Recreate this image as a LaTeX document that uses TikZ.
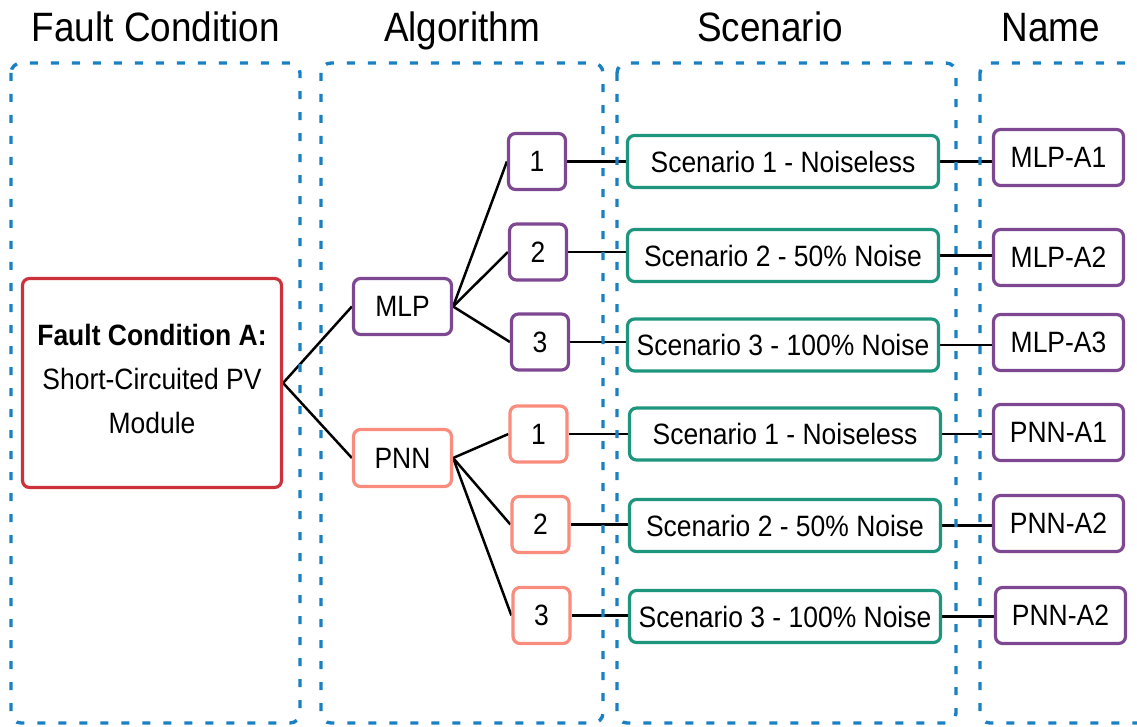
\documentclass[tikz,border=0pt]{standalone}
\usepackage{fontspec}
\setmainfont[FakeStretch=0.9]{Liberation Sans}
\definecolor{laneblue}{RGB}{26,128,196}
\definecolor{algpurple}{RGB}{125,72,145}
\definecolor{scteal}{RGB}{30,150,125}
\definecolor{pnnsalmon}{RGB}{250,140,125}
\definecolor{faultred}{RGB}{205,50,60}
\pgfdeclarelayer{back}
\pgfsetlayers{back,main}
\begin{document}
\begin{tikzpicture}[x=1pt,y=-1pt,
  lane/.style={draw=laneblue, line width=3.4pt, dash pattern=on 8pt off 13pt, rounded corners=10pt},
  heading/.style={font=\fontsize{41}{49}\selectfont, inner sep=0pt, anchor=base},
  box/.style={draw, line width=3.2pt, rounded corners=7pt, fill=white, inner sep=0pt,
    font=\fontsize{29.4}{35}\selectfont, text=black},
  algbox/.style={box, draw=algpurple},
  pnnbox/.style={box, draw=pnnsalmon},
  scbox/.style={box, draw=scteal, minimum width=311pt, minimum height=52pt},
  namebox/.style={box, draw=algpurple, minimum width=130pt, minimum height=56pt},
  numbox/.style={minimum width=57pt, minimum height=56pt},
  link/.style={draw=black, line width=2.5pt}
]
\clip (0,0) rectangle (1137,727);

% column headings, set on a common baseline
\node[heading] (hfault) at (156,42) {Fault Condition};
\node[heading] (halg)   at (462,42) {Algorithm};
\node[heading] (hscen)  at (770,42) {Scenario};
\node[heading] (hname)  at (1051,42) {Name};

% dashed column frames
\draw[lane] (11,63) rectangle (300,723);
\draw[lane] (321,63) rectangle (603,723);
\draw[lane] (617,63) rectangle (956,723);
\draw[lane] (980,63) rectangle (1160,723);

% fault condition
\node[box, draw=faultred, minimum width=259pt, minimum height=209pt] (fc) at (152,383) {};
\node[align=center, inner sep=0pt, font=\fontsize{29.4}{44}\selectfont]
  (fctext) at ([yshift=4pt]fc.center)
  {\textbf{Fault Condition A:}\\Short-Circuited PV\\Module};

% algorithms
\node[algbox, minimum width=98pt, minimum height=56pt] (mlp) at (402.5,306.5) {MLP};
\node[pnnbox, minimum width=98pt, minimum height=57pt] (pnn) at (402.5,458) {PNN};

% training runs
\node[algbox, numbox] (m1) at (537,161.5) {1};
\node[algbox, numbox] (m2) at (538,252) {2};
\node[algbox, numbox] (m3) at (540,342) {3};
\node[pnnbox, numbox] (p1) at (538.5,434) {1};
\node[pnnbox, numbox] (p2) at (540.5,524.5) {2};
\node[pnnbox, numbox] (p3) at (541.5,615.5) {3};

% scenarios
\node[scbox] (ms1) at (783,161.5) {Scenario 1 - Noiseless};
\node[scbox] (ms2) at (783,255.5) {Scenario 2 - 50\% Noise};
\node[scbox] (ms3) at (783,345) {Scenario 3 - 100\% Noise};
\node[scbox] (ps1) at (785,434) {Scenario 1 - Noiseless};
\node[scbox] (ps2) at (785,525.5) {Scenario 2 - 50\% Noise};
\node[scbox] (ps3) at (785,616.5) {Scenario 3 - 100\% Noise};

% names
\node[namebox] (na1) at (1058.5,157.5) {MLP-A1};
\node[namebox] (na2) at (1058.5,257.5) {MLP-A2};
\node[namebox] (na3) at (1058.5,342.5) {MLP-A3};
\node[namebox] (nb1) at (1058.5,432.5) {PNN-A1};
\node[namebox] (nb2) at (1058.5,523.5) {PNN-A2};
\node[namebox] (nb3) at (1060.5,615.5) {PNN-A2};

% connectors
\begin{pgfonlayer}{back}
  \draw[link] (fc.east) -- (mlp.west);
  \draw[link] (fc.east) -- (pnn.west);
  \foreach \n in {m1,m2,m3} \draw[link] (mlp.east) -- (\n.west);
  \foreach \n in {p1,p2,p3} \draw[link] (pnn.east) -- (\n.west);
  \foreach \a/\b in {m1/ms1,m2/ms2,m3/ms3,p1/ps1,p2/ps2,p3/ps3}
    \draw[link] (\a.east) -- (\a.east -| \b.west);
  \foreach \a/\b in {ms1/na1,ms2/na2,ms3/na3,ps1/nb1,ps2/nb2,ps3/nb3}
    \draw[link] (\a.east) -- (\a.east -| \b.west);
\end{pgfonlayer}
\end{tikzpicture}
\end{document}
